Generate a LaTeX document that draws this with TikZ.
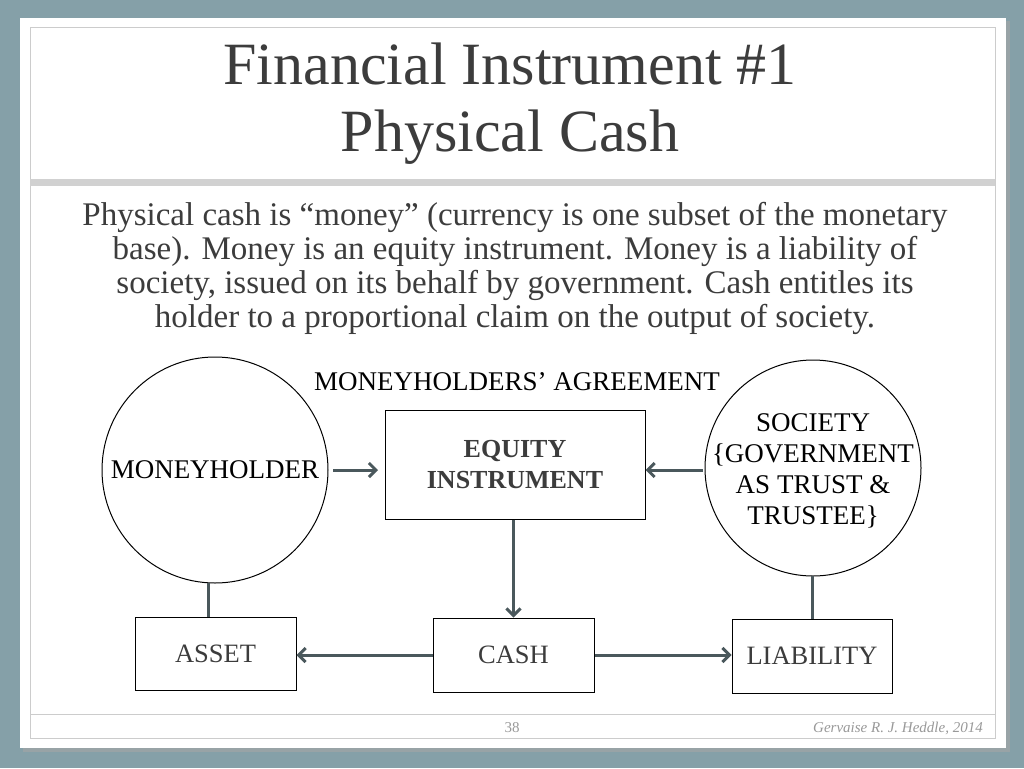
\documentclass[tikz,border=0pt]{standalone}
\usepackage{fontspec}
\setmainfont{Liberation Serif}
\usetikzlibrary{arrows.meta}
\definecolor{bgc}{RGB}{133,160,168}
\definecolor{ln}{RGB}{74,88,92}
\definecolor{tx}{RGB}{60,60,60}
\tikzset{x=1pt,y=-1pt,
 boxs/.style={draw=black,line width=1pt,fill=white,inner sep=0pt},
 circ/.style={draw=black,line width=1pt,circle,inner sep=0pt,align=center},
 conn/.style={draw=ln,line width=3pt},
 arr/.style={conn,-{Straight Barb[length=7pt,width=14pt,line width=3pt]}},
 lbl/.style={font=\fontsize{27}{31}\selectfont,align=center}}
\begin{document}
\begin{tikzpicture}
\useasboundingbox (0,0) rectangle (1024,768);
\fill[bgc] (0,0) rectangle (1024,768);
\fill[black!35,opacity=0.6] (23,21) rectangle (1010,752);
\fill[white] (20,18) rectangle (1006,748);
\draw[black!20,line width=0.8pt] (30,27) rectangle (995,738);
\fill[black!18] (30,179) rectangle (995,186);
\draw[black!20,line width=0.8pt] (30,714) -- (995,714);
\node[text=tx,font=\fontsize{60}{67}\selectfont,align=center] (title) at (510,104) {Financial Instrument \#1\\Physical Cash};
\node[text=tx,font=\fontsize{33}{34}\selectfont,align=center] (para) at (515,268) {Physical cash is “money” (currency is one subset of the monetary\\base). Money is an equity instrument. Money is a liability of\\society, issued on its behalf by government. Cash entitles its\\holder to a proportional claim on the output of society.};
\node[lbl] (agree) at (517,382) {MONEYHOLDERS’ AGREEMENT};
\node[circ,minimum size=226pt] (mh) at (215,470) {};
\node[lbl] at (215,470) {MONEYHOLDER};
\node[circ,minimum size=216pt] (soc) at (813,468) {};
\node[lbl] at (813,471) {SOCIETY\\\{GOVERNMENT\\AS TRUST \&\\TRUSTEE\}};
\node[boxs,minimum width=260pt,minimum height=109pt,font=\fontsize{26}{31}\selectfont\bfseries,align=center,text=tx] (eq) at (515,464.5) {EQUITY\\INSTRUMENT};
\node[boxs,minimum width=161pt,minimum height=73pt,font=\fontsize{26.5}{30}\selectfont,text=tx] (asset) at (215.5,653.5) {ASSET};
\node[boxs,minimum width=161pt,minimum height=74pt,font=\fontsize{26.5}{30}\selectfont,text=tx] (cash) at (513.5,655) {CASH};
\node[boxs,minimum width=160pt,minimum height=74pt,font=\fontsize{26.5}{30}\selectfont,text=tx] (liab) at (812,656) {LIABILITY};
\coordinate (a1) at (333,470); \coordinate (a2) at (378,470);
\coordinate (s1) at (703,470);
\coordinate (hy) at (0,655);
\draw[arr] (a1) -- (a2);
\draw[arr] (s1) -- (eq.east |- s1);
\draw[arr] (eq.south -| cash.north) -- (cash.north);
\draw[arr] (cash.west |- hy) -- (asset.east |- hy);
\draw[arr] (cash.east |- hy) -- (liab.west |- hy);
\draw[conn] (asset.north -| 208,0) -- (208,583);
\draw[conn] (liab.north -| 812,0) -- (812,576);
\node[text=black!40,font=\fontsize{15}{18}\selectfont] (pg) at (512,728) {38};
\node[text=black!40,font=\fontsize{15}{18}\selectfont\itshape] (sig) at (898,728) {Gervaise R. J. Heddle, 2014};
\end{tikzpicture}
\end{document}
